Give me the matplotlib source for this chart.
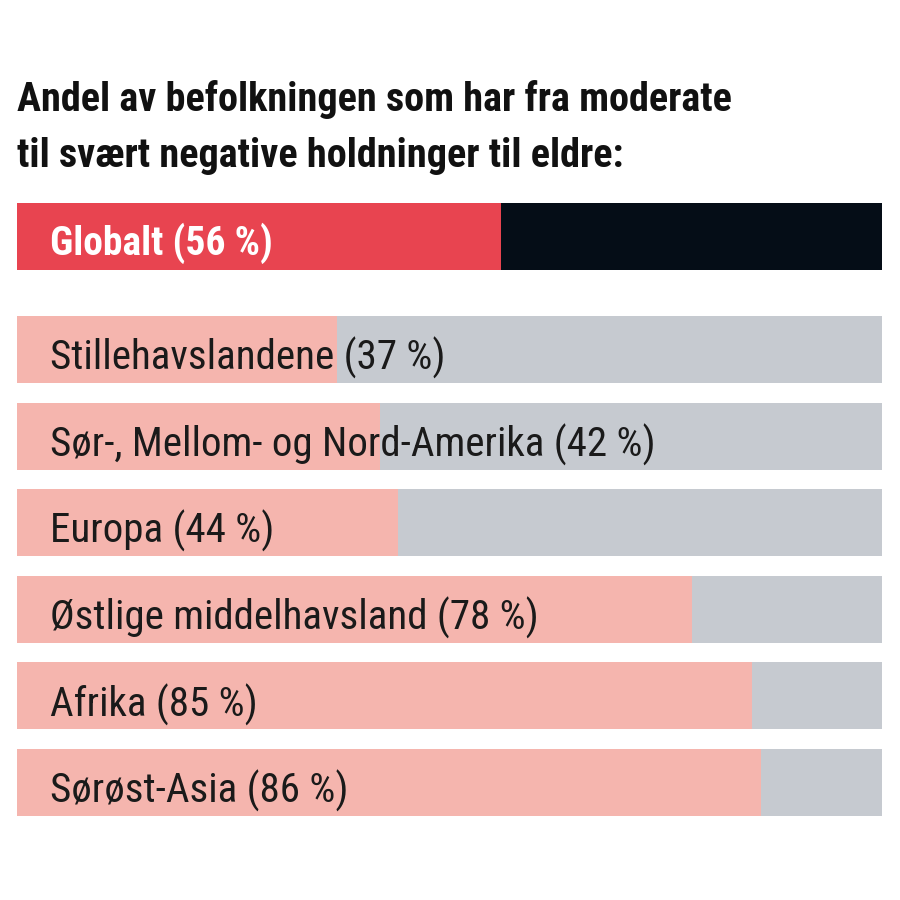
import matplotlib
matplotlib.use("Agg")
import matplotlib.pyplot as plt
from matplotlib import font_manager as fm

# ---- data ----
global_label = "Globalt"
global_value = 56
regions = ["Stillehavslandene", "Sør-, Mellom- og Nord-Amerika", "Europa",
           "Østlige middelhavsland", "Afrika", "Sørøst-Asia"]
values = [37, 42, 44, 78, 85, 86]
title = "Andel av befolkningen som har fra moderate\ntil svært negative holdninger til eldre:"

# ---- font ----
names = {f.name for f in fm.fontManager.ttflist}
family = "DejaVu Sans"
for cand in ["Liberation Sans Narrow", "Roboto Condensed", "Open Sans Condensed",
             "Noto Sans Condensed", "DejaVu Sans Condensed", "Liberation Sans"]:
    if cand in names:
        family = cand
        break
plt.rcParams["font.family"] = [family, "DejaVu Sans"]

RED = "#E84450"
BLACK = "#050D17"
PINK = "#F5B5AE"
GREY = "#C6CAD0"

fig = plt.figure(figsize=(9, 9), dpi=100)
ax = fig.add_axes([17 / 900, (900 - 816) / 900, 865 / 900, 613 / 900])

h = 0.774
gpos = -1.305
ypos = list(range(len(regions)))

ax.barh(gpos, 100, height=h, color=BLACK, linewidth=0)
ax.barh(gpos, global_value, height=h, color=RED, linewidth=0)
ax.text(3.8, gpos + 0.08, f"{global_label} ({global_value} %)", color="white",
        fontsize=28.5, fontweight="bold", va="center", ha="left")

ax.barh(ypos, [100] * len(regions), height=h, color=GREY, linewidth=0)
ax.barh(ypos, values, height=h, color=PINK, linewidth=0)
for y, r, v in zip(ypos, regions, values):
    ax.text(3.8, y + 0.1, f"{r} ({v} %)", color="#1a1a1a", fontsize=29.5,
            va="center", ha="left")

ax.set_xlim(0, 100)
ax.set_ylim(ypos[-1] + h / 2, gpos - h / 2)
ax.axis("off")

fig.text(17 / 900, 1 - 80 / 900, title, fontsize=29, fontweight="bold",
         color="#111111", va="top", ha="left", linespacing=1.6)

fig.savefig("out.png", dpi=100, facecolor="white")
